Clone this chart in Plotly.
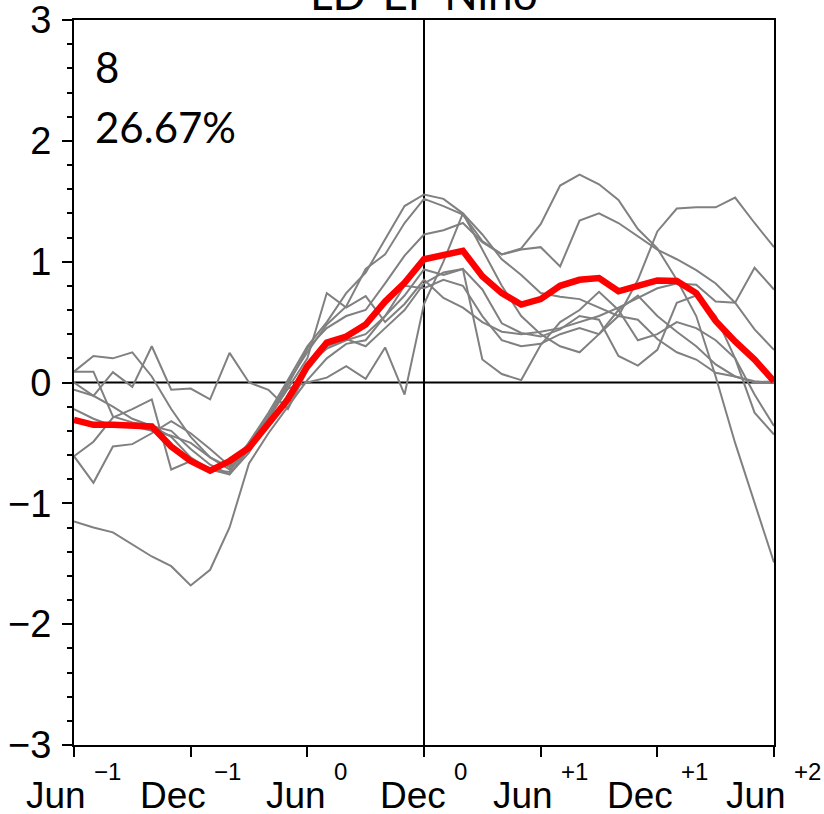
import plotly.graph_objects as go

months = list(range(37))
tick_pos = [0, 6, 12, 18, 24, 30, 36]
tick_words = ["Jun", "Dec", "Jun", "Dec", "Jun", "Dec", "Jun"]
tick_sups = ["−1", "−1", "0", "0", "+1", "+1", "+2"]
y_ticks = [-3, -2, -1, 0, 1, 2, 3]
y_labels = ["−3", "−2", "−1", "0", "1", "2", "3"]

event1 = [0.09, 0.22, 0.20, 0.25, 0.05, -0.22, -0.45, -0.62, -0.72, -0.55, -0.35, -0.10, 0.15, 0.28, 0.35, 0.40, 0.55, 0.80,
          0.78, 0.85, 0.80, 0.55, 0.35, 0.30, 0.32, 0.40, 0.45, 0.40, 0.55, 0.85, 1.25, 1.44, 1.45, 1.45, 1.53, 1.32, 1.12]
event2 = [0.09, 0.09, -0.28, -0.33, -0.36, -0.45, -0.62, -0.72, -0.74, -0.50, -0.25, 0.02, 0.30, 0.50, 0.74, 0.91, 1.18, 1.46,
          1.556, 1.52, 1.40, 1.225, 1.02, 0.89, 0.74, 0.71, 0.69, 0.62, 0.55, 0.52, 0.36, 0.25, 0.19, 0.08, 0.05, 0.01, 0.0]
event3 = [-0.22, -0.30, -0.36, -0.36, -0.40, -0.44, -0.50, -0.62, -0.70, -0.52, -0.28, 0.0, 0.25, 0.48, 0.63, 0.94, 1.06, 1.32,
          1.52, 1.46, 1.39, 1.17, 1.06, 1.10, 1.12, 0.96, 1.34, 1.40, 1.32, 1.21, 1.10, 1.02, 0.93, 0.82, 0.66, 0.44, 0.27]
event4 = [-0.06, -0.11, -0.20, -0.30, -0.36, -0.40, -0.55, -0.68, -0.76, -0.58, -0.30, -0.02, 0.28, 0.45, 0.55, 0.60, 0.82, 1.05,
          1.225, 1.26, 1.32, 1.16, 1.06, 1.11, 1.31, 1.63, 1.72, 1.64, 1.51, 1.27, 1.11, 0.85, 0.55, 0.05, -0.50, -1.00, -1.49]
event5 = [-0.61, -0.83, -0.53, -0.51, -0.42, -0.32, -0.42, -0.55, -0.69, -0.50, -0.28, -0.05, 0.0, 0.04, 0.135, 0.03, 0.29, -0.10,
          0.65, 1.00, 1.40, 1.10, 0.80, 0.55, 0.40, 0.30, 0.25, 0.40, 0.60, 0.72, 0.55, 0.42, 0.30, 0.15, 0.05, 0.0, 0.01]
event6 = [0.0, -0.11, 0.085, -0.036, 0.30, -0.06, -0.05, -0.14, 0.245, 0.0, -0.06, -0.22, 0.10, 0.30, 0.36, 0.30, 0.45, 0.60,
          0.82, 0.91, 0.94, 0.19, 0.07, 0.02, 0.31, 0.50, 0.60, 0.75, 0.60, 0.35, 0.40, 0.50, 0.45, 0.35, 0.20, -0.25, -0.43]
event7 = [-0.61, -0.49, -0.29, -0.22, -0.14, -0.72, -0.65, -0.72, -0.76, -0.55, -0.30, -0.05, 0.20, 0.74, 0.62, 0.715, 0.50, 0.65,
          0.85, 0.70, 0.62, 0.50, 0.42, 0.40, 0.42, 0.45, 0.50, 0.55, 0.62, 0.70, 0.78, 0.82, 0.81, 0.67, 0.66, 0.95, 0.77]
event8 = [-1.15, -1.20, -1.24, -1.34, -1.44, -1.52, -1.68, -1.55, -1.20, -0.67, -0.42, -0.20, 0.02, 0.20, 0.32, 0.35, 0.55, 0.72,
          0.935, 0.89, 0.94, 0.77, 0.49, 0.41, 0.38, 0.44, 0.55, 0.52, 0.22, 0.14, 0.27, 0.66, 0.72, 0.55, 0.20, -0.10, -0.36]
composite = [-0.31, -0.35, -0.35, -0.356, -0.364, -0.53, -0.65, -0.73, -0.65, -0.54, -0.35, -0.14, 0.135, 0.33, 0.38, 0.48,
             0.67, 0.825, 1.02, 1.055, 1.09, 0.88, 0.74, 0.645, 0.69, 0.80, 0.85, 0.865, 0.755, 0.80, 0.845, 0.84, 0.74,
             0.51, 0.34, 0.19, 0.01]

events = [event1, event2, event3, event4, event5, event6, event7, event8]
count_text = "8"
pct_text = "26.67%"
title_text = "LD-EP Niño"

# approximate glyph advance widths (em) for Liberation Sans, used to centre word+superscript labels
ADV = {"J": 0.5, "u": 0.556, "n": 0.556, "D": 0.722, "e": 0.556, "c": 0.5,
       "−": 0.584, "+": 0.584, "0": 0.556, "1": 0.556, "2": 0.556}


def text_width(s, size):
    return sum(ADV.get(ch, 0.556) for ch in s) * size


LABEL_FONT = "Liberation Sans, Arial, sans-serif"
MAIN_SIZE = 37
SUP_SIZE = 24
GAP = 4

fig = go.Figure()
for ev in events:
    fig.add_trace(go.Scatter(x=months, y=ev, mode="lines",
                             line=dict(color="#808080", width=2), hoverinfo="skip"))
fig.add_trace(go.Scatter(x=months, y=composite, mode="lines",
                         line=dict(color="#ff0000", width=6.5)))

fig.add_hline(y=0, line=dict(color="black", width=2), layer="below")
fig.add_vline(x=18, line=dict(color="black", width=2), layer="below")

annotations = [
    dict(text=count_text, xref="paper", yref="paper", x=0.027, y=0.935,
         xanchor="left", yanchor="middle", showarrow=False,
         font=dict(family="Lato, Open Sans, sans-serif", size=42, color="black")),
    dict(text=pct_text, xref="paper", yref="paper", x=0.027, y=0.852,
         xanchor="left", yanchor="middle", showarrow=False,
         font=dict(family="Lato, Open Sans, sans-serif", size=42, color="black")),
    dict(text=title_text, xref="paper", yref="paper", x=0.5, y=1.0, yshift=-1,
         xanchor="center", yanchor="bottom", showarrow=False,
         font=dict(family="Lato, Open Sans, sans-serif", size=44, color="black")),
]
for pos, word, sup in zip(tick_pos, tick_words, tick_sups):
    w_main = text_width(word, MAIN_SIZE)
    w_sup = text_width(sup, SUP_SIZE)
    shift = (w_main - GAP - w_sup) / 2.0
    annotations.append(dict(text=word, xref="x", yref="paper", x=pos, y=-0.0695,
                            xanchor="right", yanchor="middle", xshift=shift,
                            showarrow=False,
                            font=dict(family=LABEL_FONT, size=MAIN_SIZE, color="black")))
    annotations.append(dict(text=sup, xref="x", yref="paper", x=pos, y=-0.037,
                            xanchor="left", yanchor="middle", xshift=shift + GAP,
                            showarrow=False,
                            font=dict(family=LABEL_FONT, size=SUP_SIZE, color="black")))

fig.update_layout(
    width=824, height=814,
    margin=dict(l=74, r=50, t=20, b=69),
    paper_bgcolor="white", plot_bgcolor="white",
    showlegend=False,
    xaxis=dict(range=[0, 36], tickvals=tick_pos, showticklabels=False, automargin=False,
               showgrid=False, zeroline=False, showline=True, mirror=True,
               linecolor="black", linewidth=2, ticks="outside", ticklen=10,
               tickwidth=2, tickcolor="black"),
    yaxis=dict(range=[-3, 3], tickvals=y_ticks, ticktext=y_labels, automargin=False,
               showgrid=False, zeroline=False, showline=True, mirror=True,
               linecolor="black", linewidth=2, ticks="outside", ticklen=10,
               tickwidth=2, tickcolor="black", ticklabelstandoff=3,
               ticklabeloverflow="allow",
               tickfont=dict(family=LABEL_FONT, size=38, color="black"),
               minor=dict(dtick=0.2, ticks="outside", ticklen=5, tickwidth=1.5,
                          tickcolor="black", showgrid=False)),
    annotations=annotations,
)

fig.write_html("out.html", config={"displayModeBar": False},
               post_script="document.body.style.margin='0';document.body.style.overflow='hidden';")
